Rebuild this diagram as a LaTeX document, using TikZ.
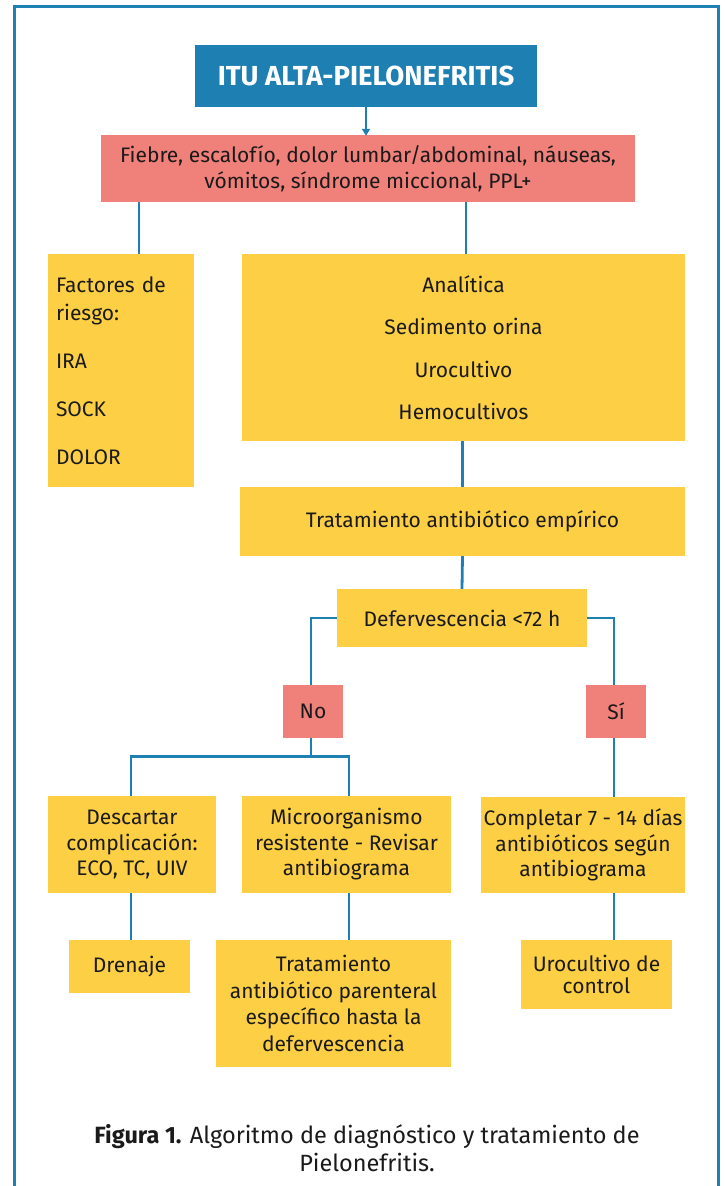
\documentclass[tikz,border=0pt]{standalone}
\usepackage{fontspec}
\setmainfont{Fira Sans}
\usetikzlibrary{arrows.meta}
\definecolor{azul}{HTML}{1E80B2}
\definecolor{amarillo}{HTML}{FDCF45}
\definecolor{rosa}{HTML}{F0807A}
\definecolor{tinta}{HTML}{1A1A1A}
\tikzset{
  caja/.style={fill=amarillo, text=tinta, inner sep=0pt, align=center,
    font=\fontsize{21}{25.5}\selectfont},
  cajarosa/.style={caja, fill=rosa},
  linea/.style={draw=azul, line width=2.8pt},
}
\begin{document}
\begin{tikzpicture}[x=1pt, y=-1pt]
\useasboundingbox (0,0) rectangle (724,1186);
\fill[white] (0,0) rectangle (724,1186);
% outer frame, open at the bottom
\draw[azul, line width=3pt] (14,1190) -- (14,6) -- (718,6) -- (718,1190);

% boxes
\node[caja, fill=azul, text=white, minimum width=342pt, minimum height=62pt,
      font=\fontsize{27.5}{30}\selectfont\bfseries] (titulo) at (366,76) {ITU ALTA-PIELONEFRITIS};
\node[cajarosa, minimum width=534pt, minimum height=67pt,
      font=\fontsize{21}{26}\selectfont] (sintomas) at (368,168.5)
  {Fiebre, escalofío, dolor lumbar/abdominal, náuseas,\\vómitos, síndrome miccional, PPL+};
\node[caja, minimum width=146pt, minimum height=233pt, text width=130pt, align=left,
      font=\fontsize{21}{28}\selectfont] (riesgo) at (121,370.5)
  {Factores de\\riesgo:\\[20pt]IRA\\[20pt]SOCK\\[20pt]DOLOR};
\node[caja, minimum width=443pt, minimum height=187pt,
      font=\fontsize{21}{42.5}\selectfont] (analitica) at (463.5,347.5)
  {Analítica\\Sedimento orina\\Urocultivo\\Hemocultivos};
\node[caja, minimum width=445pt, minimum height=69pt] (empirico) at (462.5,521.5)
  {Tratamiento antibiótico empírico};
\node[caja, minimum width=250pt, minimum height=58pt] (defer) at (462,618)
  {Defervescencia <72 h};
\node[cajarosa, minimum width=60pt, minimum height=53pt] (no) at (313,711.5) {No};
\node[cajarosa, minimum width=60pt, minimum height=53pt] (si) at (616,711.5) {Sí};
\node[caja, minimum width=168pt, minimum height=97pt] (descartar) at (132,844.5)
  {Descartar\\complicación:\\ECO, TC, UIV};
\node[caja, minimum width=209pt, minimum height=97pt] (micro) at (346.5,844.5)
  {Microorganismo\\resistente - Revisar\\antibiograma};
\node[caja, minimum width=204pt, minimum height=96pt] (completar) at (583,845)
  {Completar 7 - 14 días\\antibióticos según\\antibiograma};
\node[caja, minimum width=121pt, minimum height=53pt] (drenaje) at (129.5,966.5) {Drenaje};
\node[caja, minimum width=235pt, minimum height=127pt,
      font=\fontsize{21}{26.7}\selectfont] (parenteral) at (333.5,1003.5)
  {Tratamiento\\antibiótico parenteral\\específico hasta la\\defervescencia};
\node[caja, minimum width=151pt, minimum height=69pt,
      font=\fontsize{21}{22}\selectfont] (urocontrol) at (596.5,974.5)
  {Urocultivo de\\control};

% caption
\node[text=tinta, align=center, font=\fontsize{23.5}{28}\selectfont] (pie) at (367,1148)
  {\textbf{Figura 1.} Algoritmo de diagnóstico y tratamiento de\\Pielonefritis.};

% connectors
\draw[linea, -{Triangle[length=7pt, width=8pt]}, shorten >=-1pt]
  (titulo.south) -- (titulo.south |- sintomas.north);
\draw[linea] ([xshift=18pt]riesgo.north) -- ([xshift=18pt]riesgo.north |- sintomas.south);
\draw[linea] ([xshift=2.5pt]analitica.north) -- ([xshift=2.5pt]analitica.north |- sintomas.south);
\draw[linea] (empirico.north |- analitica.south) -- (empirico.north);
\draw[linea] (empirico.south) -- (defer.north);
\draw[linea] (defer.west) -| ([xshift=-2pt]no.north);
\draw[linea] (defer.east) -| ([xshift=-2pt]si.north);
\draw[linea] ([xshift=-2pt]no.south) -- ++(0,18) coordinate (bifurca);
\draw[linea] ([xshift=-1pt]descartar.north) |- (bifurca) -| ([xshift=2.5pt]micro.north);
\draw[linea] ([xshift=-2pt]si.south) -- ([xshift=-2pt]si.south |- completar.north);
\draw[linea] ([xshift=-1pt]descartar.south) -- ([xshift=-1pt]descartar.south |- drenaje.north);
\draw[linea] ([xshift=2.5pt]micro.south) -- ([xshift=2.5pt]micro.south |- parenteral.north);
\draw[linea] ([xshift=-2pt]si.south |- completar.south) -- ([xshift=-2pt]si.south |- urocontrol.north);
\end{tikzpicture}
\end{document}
